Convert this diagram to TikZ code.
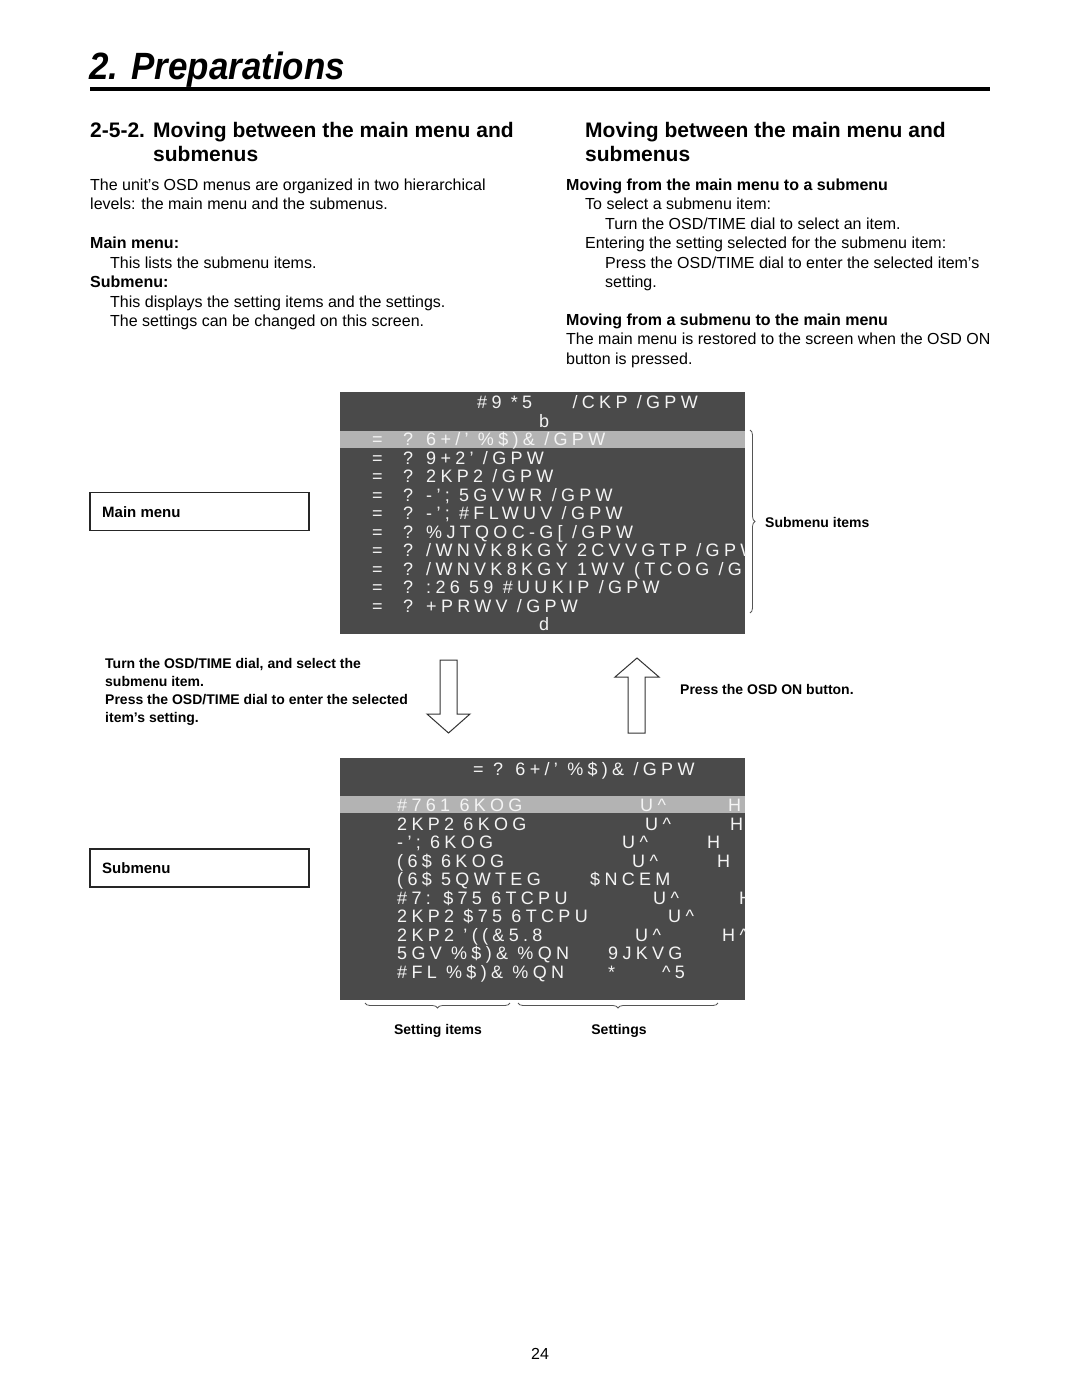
\documentclass[tikz,border=0pt]{standalone}
\usepackage{fontspec}
\setmainfont{Liberation Sans}
\newfontfamily\osdfont[LetterSpace=24]{Liberation Sans}
\usetikzlibrary{decorations.pathreplacing}
\definecolor{osdbg}{HTML}{4A4A4A}
\definecolor{osdhl}{HTML}{B3B3B3}
\definecolor{osdfg}{HTML}{F4F4F4}
\definecolor{bracegray}{HTML}{555555}
\begin{document}
\begin{tikzpicture}[x=1pt,y=-1pt,
  body/.style={anchor=base west, inner sep=0pt, font=\fontsize{16}{19}\selectfont},
  bodyb/.style={anchor=base west, inner sep=0pt, font=\fontsize{16}{19}\selectfont\bfseries},
  headtxt/.style={anchor=base west, inner sep=0pt, font=\fontsize{21}{25}\selectfont\bfseries},
  lab/.style={anchor=base west, inner sep=0pt, font=\fontsize{14}{18}\selectfont\bfseries},
  osd/.style={anchor=base west, inner sep=0pt, text=osdfg, font=\fontsize{18}{18}\osdfont},
  sidebox/.style={draw=black!85, line width=1.4pt, minimum width=219pt, minimum height=38pt, inner sep=0pt},
  hollow/.style={draw=black!80, line width=1pt, fill=white},
  bracestyle/.style={draw=bracegray, line width=0.8pt, decorate},
]
\useasboundingbox[fill=white] (0,0) rectangle (1080,1397);

% ---- page title and rule
\node[anchor=base west, inner sep=0pt, font=\fontsize{38}{38}\selectfont\bfseries\itshape] (title) at (89,79) {\scalebox{0.92}[1]{2. Preparations}};
\fill (90,86.5) rectangle (990,91);

% ---- left column
\node[headtxt] (h1a) at (90,137) {2-5-2.};
\node[headtxt] (h1b) at (153,137) {Moving between the main menu and};
\node[headtxt] (h1c) at (153,161) {submenus};
\node[body] (l1) at (90,190) {The unit’s OSD menus are organized in two hierarchical};
\node[body] (l2) at (90,209.5) {levels: the main menu and the submenus.};
\node[bodyb] (l3) at (90,248.5) {Main menu:};
\node[body] (l4) at (110,268) {This lists the submenu items.};
\node[bodyb] (l5) at (90,287.5) {Submenu:};
\node[body] (l6) at (110,307) {This displays the setting items and the settings.};
\node[body] (l7) at (110,326.5) {The settings can be changed on this screen.};

% ---- right column
\node[headtxt] (h2a) at (585,137) {Moving between the main menu and};
\node[headtxt] (h2b) at (585,161) {submenus};
\node[bodyb] (r1) at (566,190) {Moving from the main menu to a submenu};
\node[body] (r2) at (585,209.5) {To select a submenu item:};
\node[body] (r3) at (605,229) {Turn the OSD/TIME dial to select an item.};
\node[body] (r4) at (585,248.5) {Entering the setting selected for the submenu item:};
\node[body] (r5) at (605,268) {Press the OSD/TIME dial to enter the selected item’s};
\node[body] (r6) at (605,287.5) {setting.};
\node[bodyb] (r7) at (566,325) {Moving from a submenu to the main menu};
\node[body] (r8) at (566,344.5) {The main menu is restored to the screen when the OSD ON};
\node[body] (r9) at (566,364) {button is pressed.};

% ---- main menu screen
\fill[osdbg] (340,392) rectangle (745,634);
\fill[osdhl] (340,430.5) rectangle (745,447.5);
\begin{scope}
\clip (340,392) rectangle (745,634);
\node[osd] (mt1) at (477,408.5) {\#9 *5};
\node[osd, anchor=base east] (mt2) at (698,408.5) {/CKP /GPW};
\node[osd, anchor=base] (mb) at (544,427.5) {b};
\foreach \i/\txt in {1/{6+/’ \%\$)\& /GPW}, 2/{9+2’ /GPW}, 3/{2KP2 /GPW}, 4/{-’; 5GVWR /GPW}, 5/{-’; \#FLWUV /GPW}, 6/{\%JTQOC-G[ /GPW}, 7/{/WNVK8KGY 2CVVGTP /GPW}, 8/{/WNVK8KGY 1WV (TCOG /GPW}, 9/{:26 59 \#UUKIP /GPW}, 10/{+PRWV /GPW}}{
  \pgfmathsetmacro{\yb}{445.5+(\i-1)*18.5}
  \node[osd] (meq\i) at (372,\yb) {=};
  \node[osd] (mq\i) at (403,\yb) {?};
  \node[osd] (mn\i) at (426,\yb) {\txt};
}
\node[osd, anchor=base] (md) at (544,630.5) {d};
\end{scope}

% brace: submenu items
\coordinate (bra) at (750,430);
\coordinate (brb) at (750,613);
\draw[bracestyle, decoration={brace, amplitude=5pt}] (bra) -- (brb);
\node[lab] (subitems) at (765,527) {Submenu items};

\node[sidebox] (mainbox) at (199.5,511.5) {};
\node[anchor=base west, inner sep=0pt, font=\fontsize{15}{18}\selectfont\bfseries] (mainlab) at (102,517) {Main menu};

% ---- arrows and their texts
\node[lab] (t1) at (105,668) {Turn the OSD/TIME dial, and select the};
\node[lab] (t2) at (105,686) {submenu item.};
\node[lab] (t3) at (105,704) {Press the OSD/TIME dial to enter the selected};
\node[lab] (t4) at (105,722) {item’s setting.};
\draw[hollow] (440,660) -- (457,660) -- (457,714) -- (470,714) -- (448.5,733) -- (427,714) -- (440,714) -- cycle;
\draw[hollow] (637,658) -- (659,677) -- (645,677) -- (645,733) -- (628,733) -- (628,677) -- (615,677) -- cycle;
\node[lab] (t5) at (680,694) {Press the OSD ON button.};

% ---- submenu screen
\fill[osdbg] (340,758) rectangle (745,1000);
\fill[osdhl] (340,796) rectangle (745,813);
\begin{scope}
\clip (340,758) rectangle (745,1000);
\node[osd] (st) at (473,775.5) {= ? 6+/’ \%\$)\& /GPW};
\node[osd] (s1) at (397,811.5) {\#761 6KOG};
\node[osd] (s1a) at (640,811.5) {U\textasciicircum};
\node[osd] (s1b) at (728,811.5) {H};
\node[osd] (s2) at (397,830) {2KP2 6KOG};
\node[osd] (s2a) at (645,830) {U\textasciicircum};
\node[osd] (s2b) at (730,830) {H};
\node[osd] (s3) at (397,848.5) {-’; 6KOG};
\node[osd] (s3a) at (622,848.5) {U\textasciicircum};
\node[osd] (s3b) at (707,848.5) {H};
\node[osd] (s4) at (397,867) {(6\$ 6KOG};
\node[osd] (s4a) at (632,867) {U\textasciicircum};
\node[osd] (s4b) at (717,867) {H};
\node[osd] (s5) at (397,885.5) {(6\$ 5QWTEG};
\node[osd] (s5a) at (590,885.5) {\$NCEM};
\node[osd] (s6) at (397,904) {\#7: \$75 6TCPU};
\node[osd] (s6a) at (653,904) {U\textasciicircum};
\node[osd] (s6b) at (739,904) {H};
\node[osd] (s7) at (397,922.5) {2KP2 \$75 6TCPU};
\node[osd] (s7a) at (668,922.5) {U\textasciicircum};
\node[osd] (s8) at (397,941) {2KP2 ’((\&5.8};
\node[osd] (s8a) at (635,941) {U\textasciicircum};
\node[osd] (s8b) at (722,941) {H\textasciicircum};
\node[osd] (s9) at (397,959.5) {5GV \%\$)\& \%QN};
\node[osd] (s9a) at (608,959.5) {9JKVG};
\node[osd] (s10) at (397,978) {\#FL \%\$)\& \%QN};
\node[osd] (s10a) at (608,978) {*};
\node[osd] (s10b) at (662,978) {\textasciicircum 5};
\end{scope}

\node[sidebox] (subbox) at (199.5,868) {};
\node[anchor=base west, inner sep=0pt, font=\fontsize{15}{18}\selectfont\bfseries] (sublab) at (102,873.5) {Submenu};

% bottom braces
\coordinate (b1a) at (510,1003);
\coordinate (b1b) at (365,1003);
\coordinate (b2a) at (718,1003);
\coordinate (b2b) at (518,1003);
\draw[bracestyle, decoration={brace, amplitude=5pt}] (b1a) -- (b1b);
\draw[bracestyle, decoration={brace, amplitude=5pt}] (b2a) -- (b2b);
\node[lab, anchor=base] (setitems) at (438,1034) {Setting items};
\node[lab, anchor=base] (settings) at (619,1034) {Settings};

% page number
\node[anchor=base, inner sep=0pt, font=\fontsize{16}{19}\selectfont] (pageno) at (540,1359) {24};
\end{tikzpicture}
\end{document}
